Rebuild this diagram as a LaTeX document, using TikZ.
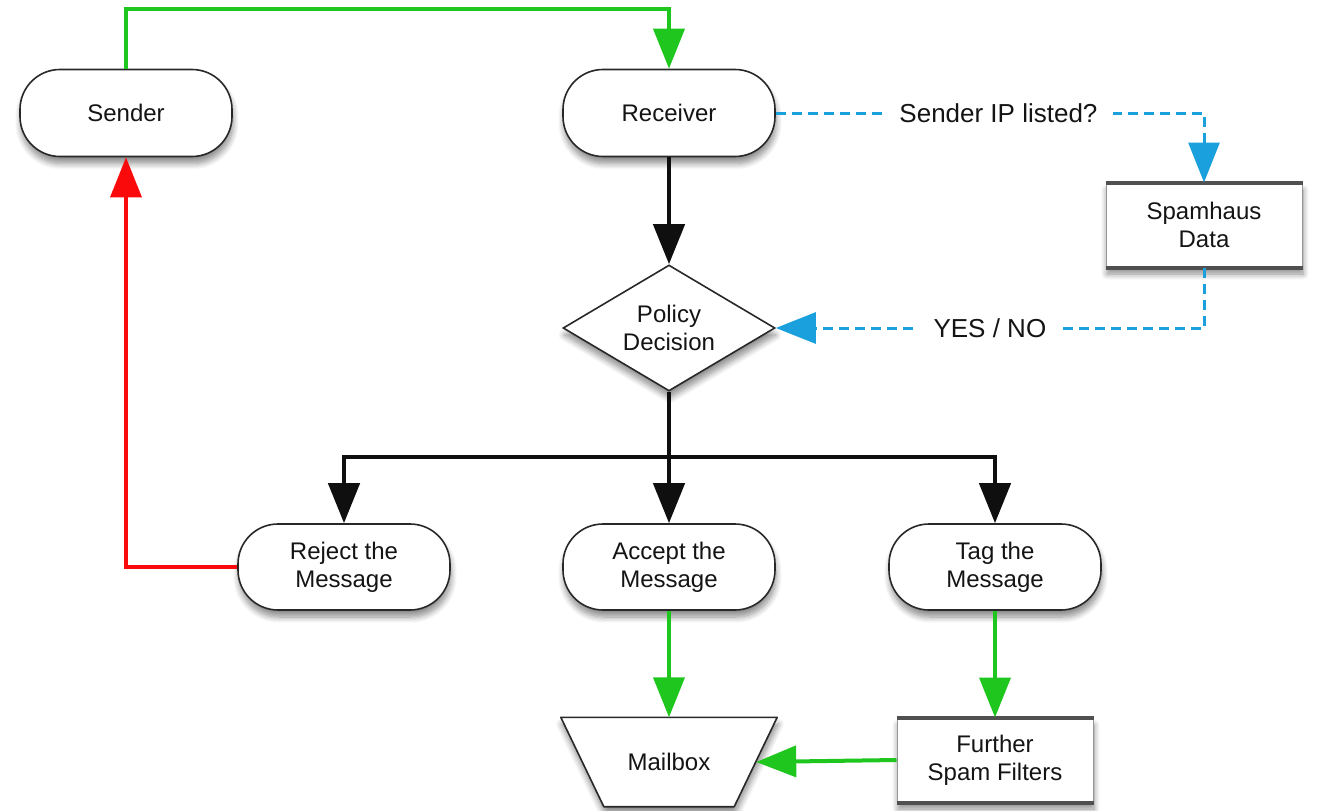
\documentclass[tikz,border=0pt]{standalone}
\usepackage{fontspec}
\setmainfont{Liberation Sans}
\usetikzlibrary{shapes.geometric,arrows.meta,shadows.blur,backgrounds}
\definecolor{fgreen}{RGB}{30,198,30}
\definecolor{fblue}{RGB}{26,160,220}
\definecolor{fred}{RGB}{250,10,10}
\definecolor{fblack}{RGB}{15,15,15}
\definecolor{nodeborder}{RGB}{40,40,40}
\definecolor{txt}{RGB}{20,20,20}
\definecolor{barcol}{RGB}{80,80,80}
\definecolor{sidecol}{RGB}{150,150,150}
\newcommand{\nodefont}{\fontsize{24}{28}\selectfont}
\newcommand{\lblfont}{\fontsize{26}{30}\selectfont}
\begin{document}
\begin{tikzpicture}[x=1pt,y=-1pt,
  shad/.style={blur shadow={shadow xshift=1pt,shadow yshift=-7pt,shadow blur steps=8,shadow blur radius=6pt,shadow opacity=45}},
  pill/.style={rectangle,rounded corners=40pt,draw=nodeborder,line width=1.6pt,fill=white,
    minimum width=212pt,minimum height=87pt,align=center,font=\nodefont,text=txt,shad},
  procbox/.style={rectangle,draw=sidecol,line width=1pt,fill=white,minimum width=196pt,
    minimum height=84pt,align=center,font=\nodefont,text=txt,shad},
  bar/.style={draw=barcol,line width=4pt},
  decision/.style={diamond,draw=nodeborder,line width=1.6pt,fill=white,aspect=1.68,inner sep=0pt,
    minimum width=212pt,minimum height=126pt,align=center,font=\nodefont,text=txt,shad},
  storebox/.style={rectangle,draw=none,inner sep=0pt,minimum width=216pt,minimum height=89pt,
    font=\nodefont,text=txt},
  storeshape/.style={draw=nodeborder,line width=1.6pt,fill=white,line join=round,shad},
  tip/.style={-{Triangle[width=31pt,length=40pt]}},
  garrow/.style={tip,draw=fgreen,line width=4pt},
  barrow/.style={tip,draw=fblack,line width=4.5pt},
  bline/.style={draw=fblack,line width=4.5pt},
  rarrow/.style={tip,draw=fred,line width=3.5pt},
  bdash/.style={tip,draw=fblue,line width=3pt,dash pattern=on 10pt off 6pt},
  lbl/.style={fill=white,font=\lblfont,text=txt,inner sep=16pt}
]
\useasboundingbox (0,0) rectangle (1317,811);

% nodes
\node[pill] (sender) at (126,113) {Sender};
\node[pill] (receiver) at (669,113) {Receiver};
\node[procbox] (spam) at (1204,225) {Spamhaus\\Data};
\node[decision] (policy) at (669,328) {Policy\\Decision};
\node[pill,minimum height=86pt] (reject) at (344,567) {Reject the\\Message};
\node[pill,minimum height=86pt] (accept) at (669,567) {Accept the\\Message};
\node[pill,minimum height=86pt] (tag) at (995,567) {Tag the\\Message};
\node[storebox] (mailbox) at (669,762) {Mailbox};
\node[procbox] (further) at (995,760) {Further\\Spam Filters};

% mailbox outline (inverted trapezoid) behind its text
\begin{scope}[on background layer]
\path[storeshape] (mailbox.north west) -- (mailbox.north east)
  -- ([xshift=-43pt]mailbox.south east) -- ([xshift=43pt]mailbox.south west) -- cycle;
\end{scope}

% thick top/bottom bars of process boxes
\draw[bar] (spam.north west) -- (spam.north east);
\draw[bar] (spam.south west) -- (spam.south east);
\draw[bar] (further.north west) -- (further.north east);
\draw[bar] (further.south west) -- (further.south east);

% connectors
\draw[garrow] (sender.north) -- ++(0,-60) -| (receiver.north);
\draw[rarrow] (reject.west) -| (sender.south);
\draw[barrow] (receiver.south) -- (policy.north);
\coordinate (split) at (669,457);
\draw[bline] (policy.south) -- (split);
\draw[barrow] (split) -| (reject.north);
\draw[barrow] (split) -- (accept.north);
\draw[barrow] (split) -| (tag.north);
\draw[bdash] (receiver.east) -| node[lbl,pos=0.26] {Sender IP listed?} (spam.north);
\draw[bdash] (spam.south) |- node[lbl,pos=0.75] {YES / NO} (policy.east);
\draw[garrow] (accept.south) -- (mailbox.north);
\draw[garrow] (tag.south) -- (further.north);
\draw[garrow] (further.west) -- ([xshift=-21pt]mailbox.east);
\end{tikzpicture}
\end{document}
